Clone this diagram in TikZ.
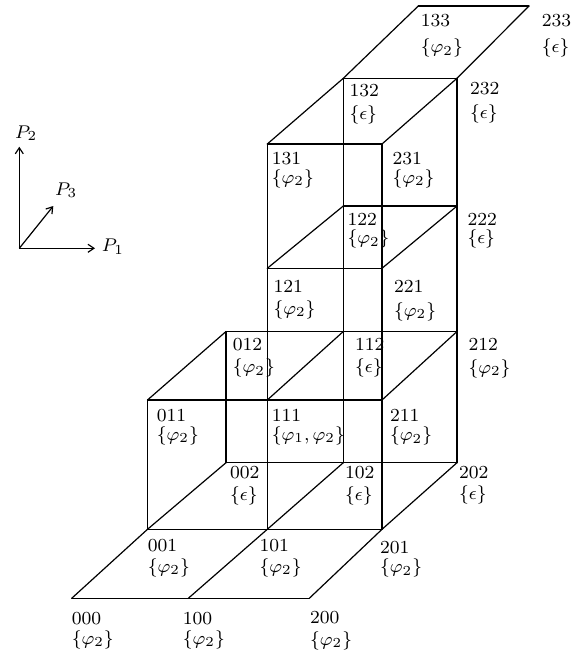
\documentclass[tikz,border=0pt]{standalone}
\usetikzlibrary{arrows.meta}
\newcommand\lt[1]{\scalebox{2.3}{\fontsize{8}{9}\selectfont #1}}
\newcommand\lbl[5]{%
  \node[lab] (n#1) at (#2,#3) {\lt{#1}};
  \node[lab] (s#1) at (#2,#4) {\lt{$\{#5\}$}};}
\tikzset{
  edge/.style={line width=1.2pt, line join=round, line cap=round},
  lab/.style={inner sep=0pt, anchor=base west},
  axis/.style={line width=1.2pt, -{Straight Barb[length=6pt,width=8pt]}}
}
\begin{document}
\begin{tikzpicture}[x=1pt,y=-1pt]
\useasboundingbox (0,0) rectangle (579,653);
% lattice points
\coordinate (p000) at (71.7,598.3);
\coordinate (p100) at (188.3,598.3);
\coordinate (p200) at (309.3,598.3);
\coordinate (p001) at (147.5,529.3);
\coordinate (p101) at (267.3,529.3);
\coordinate (p201) at (382,529.3);
\coordinate (p011) at (147.5,400);
\coordinate (p111) at (267.3,400);
\coordinate (p211) at (382,400);
\coordinate (p121) at (267.3,268.3);
\coordinate (p221) at (382,268.3);
\coordinate (p131) at (267.3,144);
\coordinate (p231) at (382,144);
\coordinate (p002) at (226,462.7);
\coordinate (p102) at (343.3,462.7);
\coordinate (p202) at (457,462.7);
\coordinate (p012) at (226,331.5);
\coordinate (p112) at (343.3,331.5);
\coordinate (p212) at (457,331.5);
\coordinate (p122) at (343.3,206);
\coordinate (p222) at (457,206);
\coordinate (p132) at (343.3,78.3);
\coordinate (p232) at (457,78.3);
\coordinate (p133) at (418.3,6);
\coordinate (p233) at (529,6);
% P1 direction
\draw[edge] (p000) -- (p100) -- (p200);
\draw[edge] (p001) -- (p101) -- (p201);
\draw[edge] (p011) -- (p111) -- (p211);
\draw[edge] (p121) -- (p221);
\draw[edge] (p131) -- (p231);
\draw[edge] (p002) -- (p102) -- (p202);
\draw[edge] (p012) -- (p112) -- (p212);
\draw[edge] (p122) -- (p222);
\draw[edge] (p132) -- (p232);
\draw[edge] (p133) -- (p233);
% P2 direction
\draw[edge] (p001) -- (p011);
\draw[edge] (p101) -- (p111) -- (p121) -- (p131);
\draw[edge] (p201) -- (p211) -- (p221) -- (p231);
\draw[edge] (p002) -- (p012);
\draw[edge] (p102) -- (p112) -- (p122) -- (p132);
\draw[edge] (p202) -- (p212) -- (p222) -- (p232);
% P3 direction
\draw[edge] (p000) -- (p001) -- (p002);
\draw[edge] (p100) -- (p101) -- (p102);
\draw[edge] (p200) -- (p201) -- (p202);
\draw[edge] (p011) -- (p012);
\draw[edge] (p111) -- (p112);
\draw[edge] (p211) -- (p212);
\draw[edge] (p121) -- (p122);
\draw[edge] (p221) -- (p222);
\draw[edge] (p131) -- (p132) -- (p133);
\draw[edge] (p231) -- (p232) -- (p233);
% labels
\lbl{000}{71.7}{624}{644}{\varphi_2}
\lbl{100}{182.7}{624}{644}{\varphi_2}
\lbl{200}{310}{623.3}{645}{\varphi_2}
\lbl{001}{147.7}{551.7}{572}{\varphi_2}
\lbl{101}{259.5}{551.7}{572}{\varphi_2}
\lbl{201}{380}{553.3}{572.5}{\varphi_2}
\lbl{011}{156.7}{421.7}{440}{\varphi_2}
\lbl{111}{271.7}{421.7}{440}{\varphi_1,\varphi_2}
\lbl{211}{390}{421.7}{440.5}{\varphi_2}
\lbl{002}{230}{478.3}{500}{\epsilon}
\lbl{102}{345}{478.3}{500}{\epsilon}
\lbl{202}{459}{478.3}{499.5}{\epsilon}
\lbl{012}{232.7}{350.7}{372.5}{\varphi_2}
\lbl{112}{355}{350.7}{372.5}{\epsilon}
\lbl{212}{468.3}{350.7}{373}{\varphi_2}
\lbl{121}{273.3}{292.7}{314}{\varphi_2}
\lbl{221}{394}{292.7}{316}{\varphi_2}
\lbl{122}{347.3}{225.5}{243.5}{\varphi_2}
\lbl{222}{467.3}{225.5}{243.5}{\epsilon}
\lbl{131}{271.7}{164.5}{183}{\varphi_2}
\lbl{231}{392.3}{164.5}{183}{\varphi_2}
\lbl{132}{349.3}{96.7}{119}{\epsilon}
\lbl{232}{470}{94}{118.5}{\epsilon}
\lbl{133}{420.7}{26.7}{52.5}{\varphi_2}
\lbl{233}{541.7}{26.7}{52.5}{\epsilon}
% axes
\coordinate (O) at (19.3,248.3);
\coordinate (a1) at (95,248.3);
\coordinate (a2) at (19.3,146.7);
\coordinate (a3) at (53.3,206);
\draw[axis] (O) -- (a1);
\draw[axis] (O) -- (a2);
\draw[axis] (O) -- (a3);
\node[lab] (P1) at (101.7,251.7) {\lt{$P_1$}};
\node[lab] (P2) at (15,138.3) {\lt{$P_2$}};
\node[lab] (P3) at (55,195) {\lt{$P_3$}};
\end{tikzpicture}
\end{document}
